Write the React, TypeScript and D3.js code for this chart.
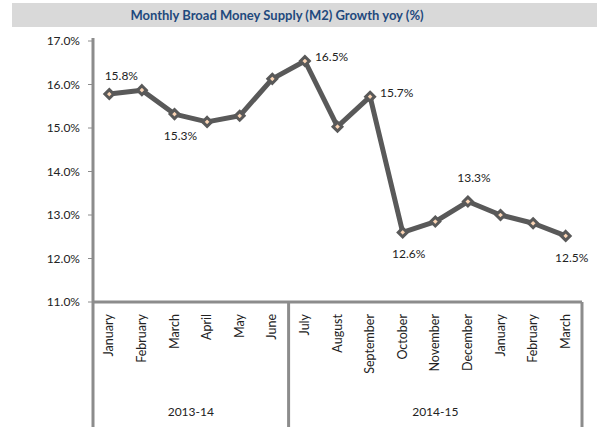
import React, { useEffect, useRef } from "react";
import * as d3 from "d3";

const months = [
  "January", "February", "March", "April", "May", "June",
  "July", "August", "September", "October", "November", "December",
  "January", "February", "March",
];
const growth = [15.78, 15.87, 15.32, 15.14, 15.28, 16.13, 16.54, 15.03, 15.72, 12.6, 12.85, 13.31, 13.0, 12.81, 12.52];
// which points get a value label, and where
const labelled = [0, 2, 6, 8, 9, 11, 14];
const labelPos = ["above", "below", "right", "right", "below", "above", "below"];
const groups = [
  { name: "2013-14", start: 0, end: 6 },
  { name: "2014-15", start: 6, end: 15 },
];
const yTicks = [11, 12, 13, 14, 15, 16, 17];

export default function App() {
  const ref = useRef<SVGSVGElement>(null);

  useEffect(() => {
    const svg = d3.select(ref.current);
    svg.selectAll("*").remove();

    const W = 597, H = 427;
    const left = 93, right = 582, top = 41, bottom = 302;
    const font = "Lato, 'Open Sans', sans-serif";
    const axisColor = "#8c8c8c";

    // title band
    svg.append("rect").attr("x", 12).attr("y", 3).attr("width", W - 12).attr("height", 24).attr("fill", "#d9d9d9");
    svg.append("text")
      .attr("x", 277).attr("y", 20)
      .attr("text-anchor", "middle")
      .style("font-family", font).style("font-size", "13px").style("font-weight", "bold")
      .attr("fill", "#1f497d")
      .text("Monthly Broad Money Supply (M2) Growth yoy (%)");

    const x = d3.scaleBand<number>().domain(d3.range(months.length)).range([left, right]);
    const y = d3.scaleLinear().domain([11, 17]).range([bottom, top]);
    const cx = (i: number) => (x(i) as number) + x.bandwidth() / 2;

    // y tick labels
    svg.append("g").selectAll("text").data(yTicks).enter().append("text")
      .attr("x", 80).attr("y", (d) => y(d) + 4)
      .attr("text-anchor", "end")
      .style("font-family", font).style("font-size", "12px")
      .attr("fill", "#222")
      .text((d) => d.toFixed(1) + "%");
    svg.append("g").selectAll("line").data(yTicks).enter().append("line")
      .attr("x1", left - 5).attr("x2", left).attr("y1", (d) => y(d)).attr("y2", (d) => y(d))
      .attr("stroke", axisColor).attr("stroke-width", 1);

    // axes and category frame
    svg.append("line").attr("x1", left).attr("x2", left).attr("y1", 38).attr("y2", H)
      .attr("stroke", axisColor).attr("stroke-width", 3);
    svg.append("line").attr("x1", left).attr("x2", right).attr("y1", bottom).attr("y2", bottom)
      .attr("stroke", axisColor).attr("stroke-width", 3);
    groups.forEach((g) => {
      const xe = g.end < months.length ? (x(g.end) as number) : right;
      svg.append("line").attr("x1", xe).attr("x2", xe).attr("y1", bottom).attr("y2", H)
        .attr("stroke", axisColor).attr("stroke-width", 3);
      const xs = x(g.start) as number;
      svg.append("text")
        .attr("x", (xs + xe) / 2).attr("y", 416)
        .attr("text-anchor", "middle")
        .style("font-family", font).style("font-size", "12px")
        .attr("fill", "#222")
        .text(g.name);
    });

    // month labels
    svg.append("g").selectAll("text").data(months).enter().append("text")
      .attr("transform", (_, i) => `translate(${cx(i) + 4},${314}) rotate(-90)`)
      .attr("text-anchor", "end")
      .style("font-family", font).style("font-size", "12.5px")
      .attr("fill", "#222")
      .text((d) => d);

    // line
    const line = d3.line<number>().x((_, i) => cx(i)).y((d) => y(d));
    svg.append("path").datum(growth)
      .attr("d", line)
      .attr("fill", "none")
      .attr("stroke", "#595959")
      .attr("stroke-width", 5)
      .attr("stroke-linejoin", "round");

    // diamond markers
    const diamond = d3.symbol().type(d3.symbolDiamond2).size(50);
    svg.append("g").selectAll("path").data(growth).enter().append("path")
      .attr("transform", (d, i) => `translate(${cx(i)},${y(d)})`)
      .attr("d", diamond as any)
      .attr("fill", "#fbd5b5")
      .attr("stroke", "#595959")
      .attr("stroke-width", 3);

    // value labels
    labelled.forEach((i, k) => {
      const pos = labelPos[k];
      let lx = cx(i), ly = y(growth[i]), anchor = "middle";
      if (pos === "above") { lx += 12; ly -= 14; }
      if (pos === "below") { lx += 6; ly += 26; }
      if (pos === "right") { lx += 10; ly += 0; anchor = "start"; }
      if (pos === "above" && i === 11) { lx = cx(i) + 6; ly = y(growth[i]) - 20; }
      svg.append("text")
        .attr("x", lx).attr("y", ly)
        .attr("text-anchor", anchor)
        .style("font-family", font).style("font-size", "12px")
        .attr("fill", "#222")
        .text(growth[i].toFixed(1) + "%");
    });
  }, []);

  return (
    <svg ref={ref} width={597} height={427} style={{ display: "block", position: "absolute", left: 0, top: 0, background: "#fff" }} />
  );
}
